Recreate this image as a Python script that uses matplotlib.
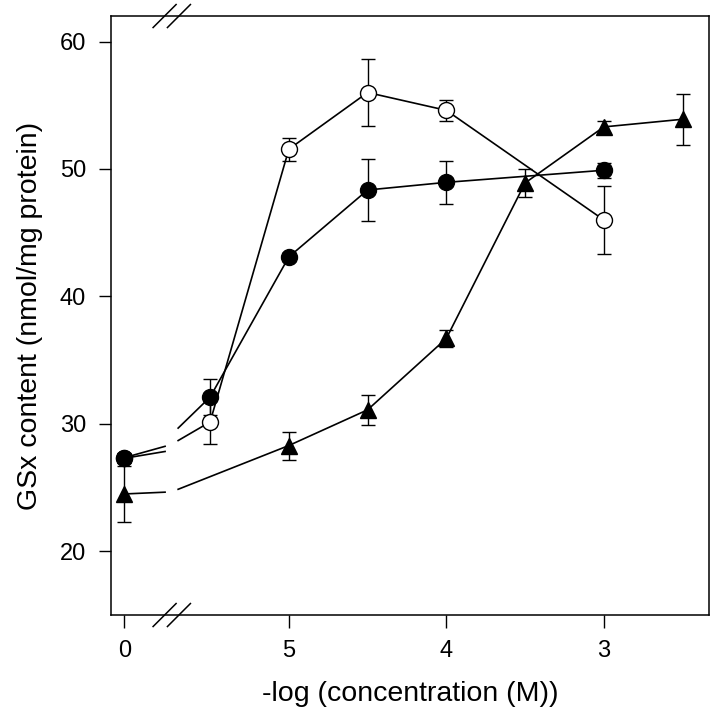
import numpy as np
import matplotlib
matplotlib.use("Agg")
from matplotlib import pyplot as plt

plt.rcParams['font.family'] = ['Liberation Sans', 'DejaVu Sans']

# -log(concentration); 0 means the untreated control
conc = [0, 5.5, 5, 4.5, 4, 3.5, 3, 2.5]
nan = np.nan

open_y = [27.3, 30.15, 51.55, 56.0, 54.6, nan, 46.0, nan]
open_err = [0.3, 1.75, 0.9, 2.6, 0.8, nan, 2.7, nan]
filled_y = [27.35, 32.1, 43.1, 48.35, 48.95, nan, 49.9, nan]
filled_err = [0.4, 1.4, 0.3, 2.4, 1.7, nan, 0.6, nan]
tri_y = [24.5, nan, 28.3, 31.1, 36.7, 48.9, 53.3, 53.9]
tri_err = [2.2, nan, 1.1, 1.2, 0.7, 1.1, 0.45, 2.0]

tick_vals = [0, 5, 4, 3]
tick_labels = ['0', '5', '4', '3']
y_ticks = [20, 30, 40, 50, 60]

# axis layout (broken x axis)
CTRL_POS = -0.044          # where the control sits left of the break
GAP = (0.214, 0.297)       # break in the connecting lines
CTRL_T, GAP_T = 0.377, (0.40, 0.437)   # line geometry through the break


def xpos(c):
    c = np.asarray(c, dtype=float)
    return np.where(c == 0, CTRL_POS, 6 - c)


def plot_series(ax, y, err, marker, face):
    x = xpos(conc)
    y = np.asarray(y, dtype=float)
    err = np.asarray(err, dtype=float)
    ok = ~np.isnan(y)
    x, y, err = x[ok], y[ok], err[ok]
    # control -> first point, drawn through the axis break
    t1, v0, v1 = x[1], y[0], y[1]

    def v(t):
        return v0 + (v1 - v0) * (t - CTRL_T) / (t1 - CTRL_T)
    ax.plot([x[0], GAP[0]], [v0, v(GAP_T[0])], color='black', lw=1.2, zorder=2)
    ax.plot([GAP[1], t1], [v(GAP_T[1]), v1], color='black', lw=1.2, zorder=2)
    ax.plot(x[1:], y[1:], color='black', lw=1.2, zorder=2)
    ax.errorbar(x, y, yerr=err, fmt='none', ecolor='black', elinewidth=1.0,
                capsize=5, capthick=1.0, zorder=3)
    ax.plot(x, y, linestyle='none', marker=marker, markersize=11.5,
            markerfacecolor=face, markeredgecolor='black', markeredgewidth=1.0,
            zorder=4)


fig = plt.figure(figsize=(7.17, 7.19), dpi=100)
ax = fig.add_axes([0.1551, 0.1446, 0.8344, 0.8331])

plot_series(ax, open_y, open_err, 'o', 'white')
plot_series(ax, filled_y, filled_err, 'o', 'black')
plot_series(ax, tri_y, tri_err, '^', 'black')

ax.set_xlim(-0.128, 3.671)
ax.set_ylim(15, 62)
ax.set_xticks(xpos(tick_vals))
ax.set_xticklabels(tick_labels)
ax.set_yticks(y_ticks)
ax.tick_params(direction='out', length=9, width=1.0, labelsize=17, pad=9)
for s in ax.spines.values():
    s.set_linewidth(1.1)

# break marks on top and bottom spines
tr = ax.get_xaxis_transform()
for cx in (0.211, 0.302):
    for cy in (0.0, 1.0):
        ax.plot([cx - 0.073, cx + 0.073], [cy - 0.0192, cy + 0.0192],
                color='black', lw=1.1, transform=tr, clip_on=False, zorder=5)

ax.set_xlabel('-log (concentration (M))', fontsize=20.5, labelpad=14)
ax.set_ylabel('GSx content (nmol/mg protein)', fontsize=20.5, labelpad=12)

fig.savefig('out.png', dpi=100)
